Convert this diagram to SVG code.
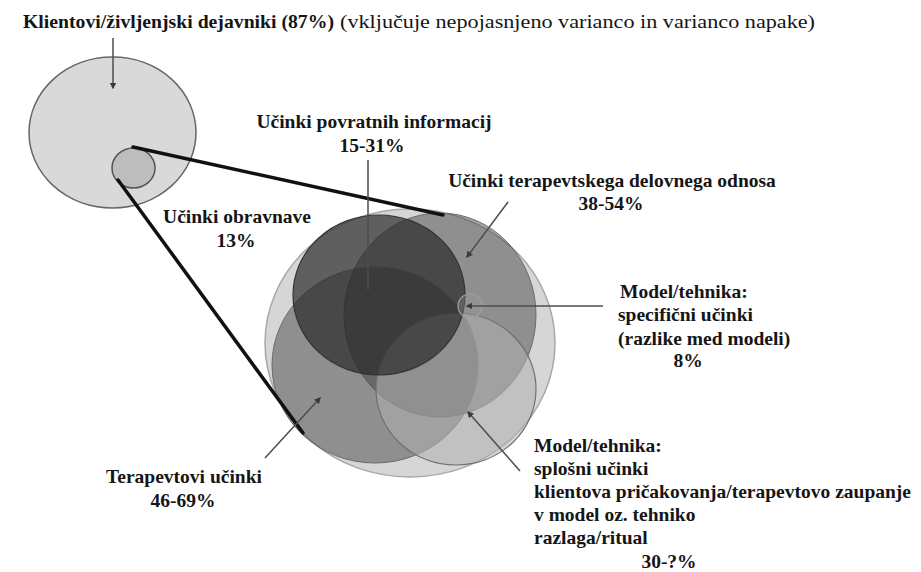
<svg xmlns="http://www.w3.org/2000/svg" width="921" height="572" viewBox="0 0 921 572">
<defs>
<style>
text{font-family:"Liberation Serif","Times New Roman",serif;font-size:19.5px;font-weight:bold;fill:#151515}
.mid{text-anchor:middle}
.reg{font-weight:normal}
.arrow{stroke:#4d4d4d;stroke-width:1.5;fill:none;marker-end:url(#ah)}
.zoom{stroke:#111;stroke-width:3.5;fill:none;stroke-linecap:round}
</style>
<marker id="ah" viewBox="0 0 10 10" refX="8" refY="5" markerWidth="4.5" markerHeight="4.5" orient="auto" markerUnits="strokeWidth">
<path d="M0,0 L10,5 L0,10 z" fill="#3a3a3a"/>
</marker>
</defs>
<rect width="921" height="572" fill="#ffffff"/>

<g id="title">
<text x="23" y="28" font-size="20" textLength="311" lengthAdjust="spacingAndGlyphs">Klientovi/življenjski dejavniki (87%)</text>
<text x="340" y="28" class="reg" font-size="21" textLength="475" lengthAdjust="spacingAndGlyphs">(vključuje nepojasnjeno varianco in varianco napake)</text>
</g>

<g id="client-factors">
<ellipse cx="112.5" cy="132.5" rx="83.5" ry="75.5" fill="#d9d9d9" stroke="#666" stroke-width="1.5"/>
</g>

<g id="treatment-effects">
<ellipse cx="133.5" cy="168" rx="21.5" ry="20" fill="#bdbdbd" stroke="#555" stroke-width="1.5"/>
<text x="237" y="223" class="mid">Učinki obravnave</text>
<text x="236" y="247" class="mid">13%</text>
</g>

<g id="cluster-outer">
<ellipse cx="410" cy="343" rx="145" ry="134" fill="#d6d6d6" stroke="#a8a8a8" stroke-width="1.5"/>
</g>

<g id="relationship">
<ellipse cx="440" cy="315" rx="96" ry="102" fill="#3a3a3a" fill-opacity="0.45" stroke="#6a6a6a" stroke-width="1"/>
<text x="612" y="187" class="mid">Učinki terapevtskega delovnega odnosa</text>
<text x="611" y="210" class="mid">38-54%</text>
</g>

<g id="therapist">
<ellipse cx="375" cy="365" rx="103" ry="98" fill="#3a3a3a" fill-opacity="0.45" stroke="#6a6a6a" stroke-width="1"/>
<text x="184" y="483" class="mid">Terapevtovi učinki</text>
<text x="183" y="507" class="mid">46-69%</text>
</g>

<g id="model-general">
<ellipse cx="456" cy="389" rx="80" ry="76" fill="#b0b0b0" fill-opacity="0.55" stroke="#707070" stroke-width="1.2"/>
<text x="534" y="452">Model/tehnika:</text>
<text x="534" y="475">splošni učinki</text>
<text x="534" y="498">klientova pričakovanja/terapevtovo zaupanje</text>
<text x="534" y="521">v model oz. tehniko</text>
<text x="534" y="544">razlaga/ritual</text>
<text x="669" y="568" class="mid">30-?%</text>
</g>

<g id="feedback">
<ellipse cx="379" cy="295" rx="86" ry="80" fill="#262626" fill-opacity="0.68" stroke="#333" stroke-width="1.2"/>
<text x="374" y="128" class="mid">Učinki povratnih informacij</text>
<text x="372" y="152" class="mid">15-31%</text>
</g>

<g id="model-specific">
<circle cx="470" cy="306" r="12" fill="#9a9a9a" fill-opacity="0.3" stroke="#a0a0a0" stroke-width="1.2"/>
<text x="620" y="298">Model/tehnika:</text>
<text x="618" y="321">specifični učinki</text>
<text x="618" y="345">(razlike med modeli)</text>
<text x="688" y="367" class="mid">8%</text>
</g>

<g id="connectors">
<line class="zoom" x1="133" y1="147" x2="443" y2="215"/>
<line class="zoom" x1="118" y1="180" x2="303" y2="433"/>
<line class="arrow" x1="113" y1="38" x2="113" y2="88"/>
<line class="arrow" x1="368" y1="160" x2="368" y2="295"/>
<line class="arrow" x1="508" y1="202" x2="467" y2="257"/>
<line class="arrow" x1="603" y1="306" x2="467" y2="306"/>
<line class="arrow" x1="265" y1="458" x2="320" y2="398"/>
<line class="arrow" x1="520" y1="471" x2="468" y2="412"/>
</g>
</svg>
